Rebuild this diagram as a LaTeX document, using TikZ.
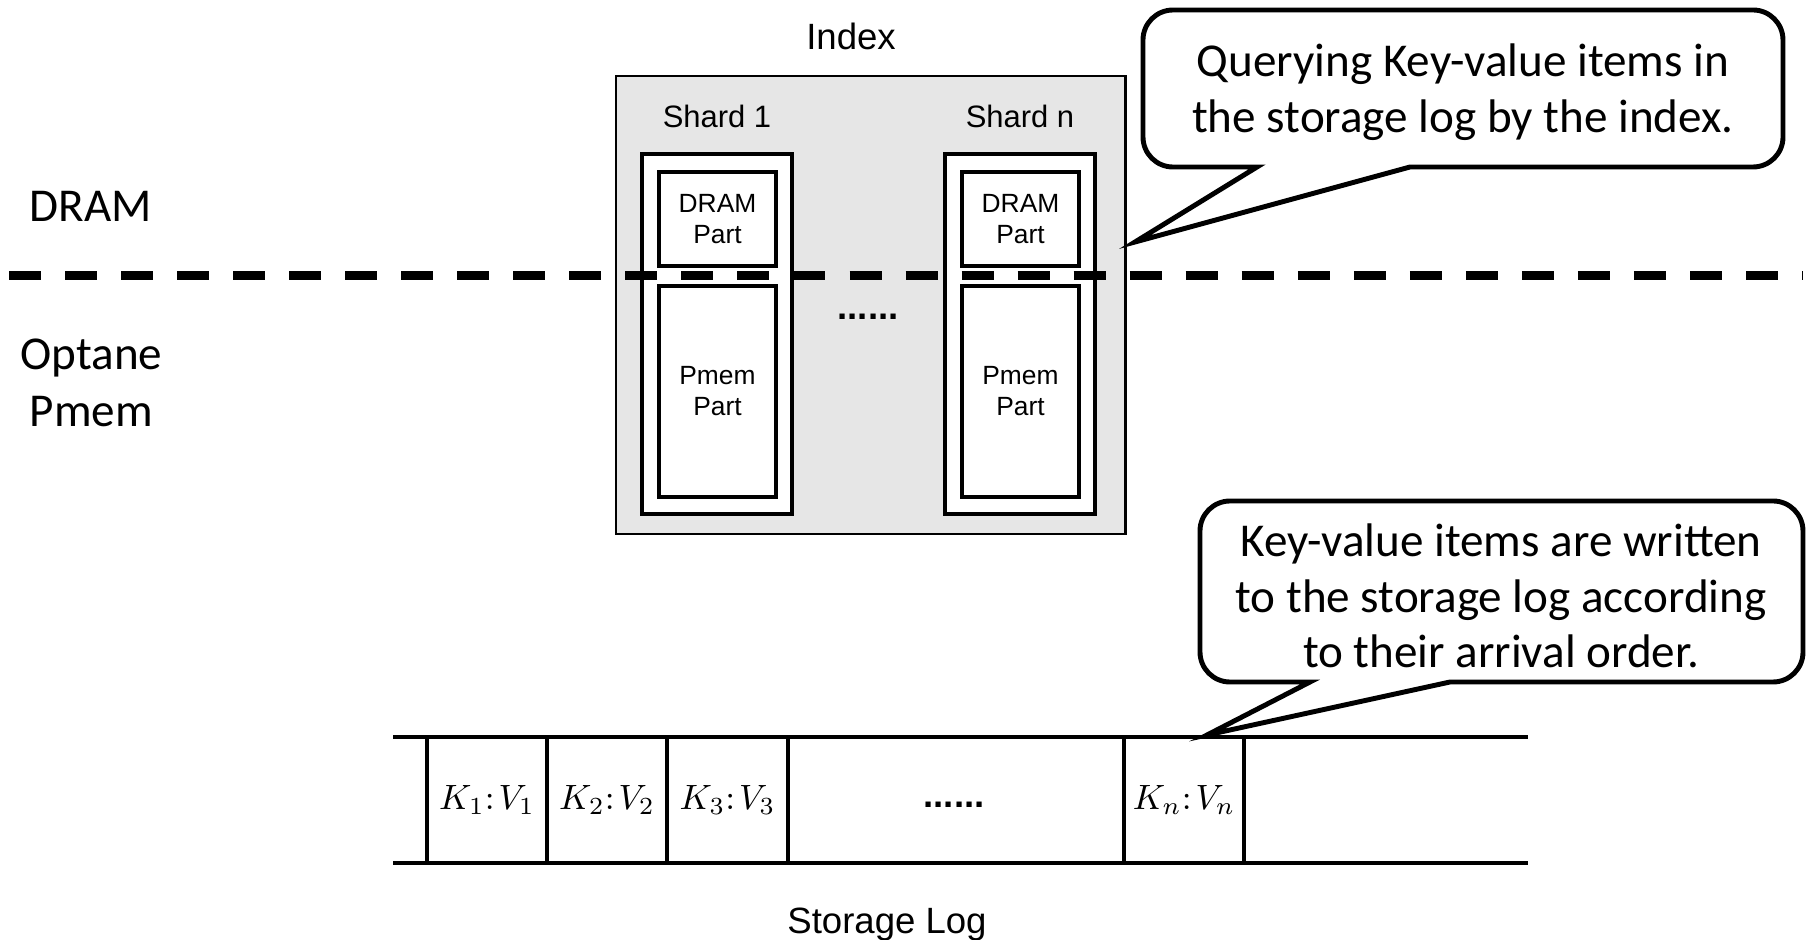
\documentclass[tikz,border=0pt]{standalone}
\usepackage{fontspec}
\setmainfont{Liberation Sans}
\newfontfamily\notefont{Carlito}
\definecolor{idxgray}{HTML}{E6E6E6}
\newcommand{\kvpair}[2]{$K_{#1}{:}\mkern2mu V_{#2}$}
\begin{document}
\begin{tikzpicture}[x=0.01cm,y=-0.01cm,
  every node/.style={inner sep=0pt, outer sep=0pt},
  indexbox/.style={draw=black, line width=0.75pt, fill=idxgray},
  shardbox/.style={draw=black, line width=1.1pt, fill=white},
  partbox/.style={draw=black, line width=1.1pt, fill=white},
  parttext/.style={font=\fontsize{7.5}{8.8}\selectfont, align=center},
  shardtext/.style={font=\fontsize{8.8}{10}\selectfont},
  captext/.style={font=\fontsize{10.4}{12}\selectfont},
  dotstext/.style={font=\bfseries\fontsize{10.4}{12}\selectfont},
  sidetext/.style={font=\notefont\fontsize{13.4}{16.2}\selectfont, align=center},
  notetext/.style={font=\notefont\fontsize{13.4}{15.8}\selectfont, align=center},
  bubble/.style={draw=black, line width=1.4pt, fill=white},
  logline/.style={draw=black, line width=1.4pt},
  tierline/.style={draw=black, line width=2.56pt, dash pattern=on 0.32cm off 0.24cm},
  kv/.style={font=\fontsize{9.8}{12}\selectfont}
]
\useasboundingbox (0,0) rectangle (1814,940);

% index container
\draw[indexbox] (616,76) rectangle (1125.5,534);
\node[captext] (idx) at (851,36) {Index};

% shard 1
\draw[shardbox] (642,154) rectangle (792,514);
\draw[partbox] (659,172) rectangle (776,266);
\draw[partbox] (659,286) rectangle (776,497);
\node[shardtext, anchor=base] (s1) at (717,128) {Shard 1};
\node[parttext] (d1) at (717.5,219) {DRAM\\Part};
\node[parttext] (p1) at (717.5,391.5) {Pmem\\Part};

% shard n
\draw[shardbox] (945,154) rectangle (1095,514);
\draw[partbox] (962,172) rectangle (1079,266);
\draw[partbox] (962,286) rectangle (1079,497);
\node[shardtext, anchor=base] (sn) at (1020,128) {Shard n};
\node[parttext] (dn) at (1020.5,219) {DRAM\\Part};
\node[parttext] (pn) at (1020.5,391.5) {Pmem\\Part};

\node[dotstext, anchor=base] (idots) at (868,319.5) {......};

% memory tiers
\node[sidetext, anchor=base] (dramlbl) at (91,222) {DRAM};
\node[sidetext] (optlbl) at (91.5,383) {Optane\\Pmem};
\coordinate (tierL) at (9,275.5);
\coordinate (tierR) at (1803,275.5);
\draw[tierline] (tierL) -- (tierR);

% query callout
\coordinate (qtip) at (1135,242);
\draw[bubble] (1257,167) -- (qtip) -- (1410,167) -- (1753,167)
  arc[start angle=270,end angle=360,radius=0.3cm] -- (1783,40)
  arc[start angle=0,end angle=90,radius=0.3cm] -- (1173,10)
  arc[start angle=90,end angle=180,radius=0.3cm] -- (1143,137)
  arc[start angle=180,end angle=270,radius=0.3cm] -- cycle;
\node[notetext] (qnote) at (1463,92) {Querying Key-value items in\\the storage log by the index.};

% storage log
\coordinate (logTL) at (393,737);
\coordinate (logTR) at (1528,737);
\coordinate (logBL) at (393,863);
\coordinate (logBR) at (1528,863);
\draw[logline] (logTL) -- (logTR);
\draw[logline] (logBL) -- (logBR);
\foreach \cx in {427,547,667,788,1124,1244}
  \draw[logline] (\cx,737) -- (\cx,863);
\node[kv] (kv1) at (487,800) {\kvpair{1}{1}};
\node[kv] (kv2) at (607,800) {\kvpair{2}{2}};
\node[kv] (kv3) at (727.5,800) {\kvpair{3}{3}};
\node[dotstext, anchor=base] (ldots) at (954,807.5) {......};
\node[kv] (kvn) at (1184,800) {\kvpair{n}{n}};
\node[captext, anchor=base] (slog) at (887,933) {Storage Log};

% append callout
\coordinate (wtip) at (1207,735);
\draw[bubble] (1310,682) -- (wtip) -- (1450,682) -- (1773,682)
  arc[start angle=270,end angle=360,radius=0.3cm] -- (1803,531)
  arc[start angle=0,end angle=90,radius=0.3cm] -- (1230,501)
  arc[start angle=90,end angle=180,radius=0.3cm] -- (1200,652)
  arc[start angle=180,end angle=270,radius=0.3cm] -- cycle;
\node[notetext] (wnote) at (1501,596) {Key-value items are written\\to the storage log according\\to their arrival order.};
\end{tikzpicture}
\end{document}
